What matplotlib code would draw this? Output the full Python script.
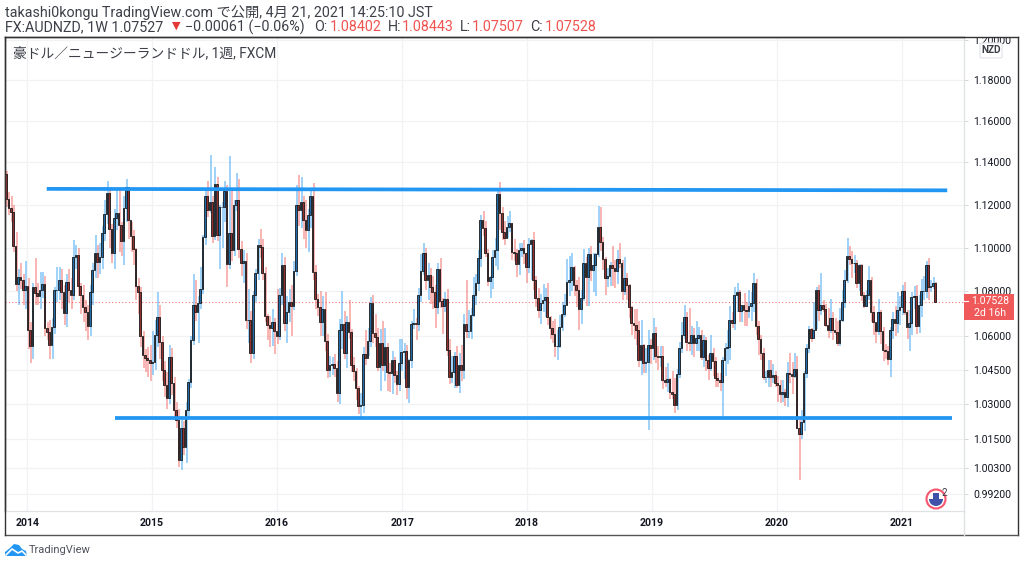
import numpy as np
import pandas as pd
import matplotlib
matplotlib.use("Agg")
import matplotlib.pyplot as plt
import matplotlib.dates as mdates
from matplotlib.collections import LineCollection
from matplotlib.lines import Line2D
from matplotlib.patches import Rectangle, Circle, Polygon, FancyBboxPatch, Wedge
from matplotlib.ticker import NullLocator
from matplotlib.transforms import Bbox, IdentityTransform

plt.rcParams['font.family'] = ['Roboto', 'Noto Sans CJK JP', 'DejaVu Sans']

first_open = 1.1345

# weekly closes, ten candles per row
closes = [
    1.1226, 1.1184, 1.1166, 1.1007, 1.0834, 1.0866, 1.0852, 1.0806, 1.0824, 1.0627,
    1.0556, 1.0820, 1.0793, 1.0779, 1.0806, 1.0834, 1.0636, 1.0618, 1.0560, 1.0640,
    1.0806, 1.0806, 1.0852, 1.0797, 1.0703, 1.0843, 1.0806, 1.0784, 1.0957, 1.0966,
    1.0824, 1.0784, 1.0730, 1.0707, 1.0645, 1.0797, 1.0897, 1.0975, 1.0934, 1.0957,
    1.1067, 1.1156, 1.1255, 1.1086, 1.0975, 1.1137, 1.1161, 1.1105, 1.1030, 1.1184,
    1.1283, 1.1128, 1.1053, 1.0994, 1.0824, 1.0797, 1.0600, 1.0516, 1.0503, 1.0494,
    1.0481, 1.0485, 1.0605, 1.0685, 1.0573, 1.0450, 1.0385, 1.0328, 1.0507, 1.0393,
    1.0276, 1.0233, 1.0063, 1.0199, 1.0118, 1.0276, 1.0397, 1.0582, 1.0739, 1.0707,
    1.0748, 1.0811, 1.1049, 1.1240, 1.1175, 1.1212, 1.1053, 1.1298, 1.1058, 1.1189,
    1.1189, 1.1264, 1.0925, 1.1067, 1.0989, 1.1198, 1.1221, 1.0994, 1.0929, 1.0938,
    1.0671, 1.0671, 1.0525, 1.0784, 1.0884, 1.1012, 1.1003, 1.0884, 1.0689, 1.0649,
    1.0636, 1.0662, 1.0622, 1.0600, 1.0784, 1.0920, 1.0658, 1.0707, 1.0752, 1.0734,
    1.0893, 1.1198, 1.1175, 1.1212, 1.1128, 1.1081, 1.1151, 1.1240, 1.0888, 1.0766,
    1.0730, 1.0662, 1.0721, 1.0578, 1.0450, 1.0472, 1.0476, 1.0459, 1.0350, 1.0627,
    1.0653, 1.0525, 1.0662, 1.0618, 1.0472, 1.0446, 1.0372, 1.0293, 1.0297, 1.0520,
    1.0503, 1.0578, 1.0748, 1.0614, 1.0596, 1.0463, 1.0569, 1.0472, 1.0551, 1.0441,
    1.0437, 1.0494, 1.0428, 1.0389, 1.0481, 1.0529, 1.0534, 1.0376, 1.0494, 1.0653,
    1.0658, 1.0653, 1.0784, 1.0893, 1.0975, 1.0852, 1.0875, 1.0820, 1.0797, 1.0730,
    1.0902, 1.0757, 1.0734, 1.0766, 1.0538, 1.0419, 1.0441, 1.0511, 1.0385, 1.0472,
    1.0450, 1.0653, 1.0622, 1.0622, 1.0693, 1.0784, 1.0838, 1.0952, 1.1128, 1.1090,
    1.0975, 1.0847, 1.0866, 1.0957, 1.0989, 1.1250, 1.1161, 1.1072, 1.1044, 1.1095,
    1.1114, 1.0980, 1.0975, 1.0925, 1.0989, 1.0998, 1.0975, 1.0911, 1.1016, 1.1035,
    1.0852, 1.0770, 1.0716, 1.0748, 1.0761, 1.0775, 1.0685, 1.0636, 1.0609, 1.0556,
    1.0556, 1.0640, 1.0698, 1.0739, 1.0843, 1.0852, 1.0911, 1.0829, 1.0806, 1.0721,
    1.0770, 1.0929, 1.0866, 1.0971, 1.0897, 1.0920, 1.0971, 1.1095, 1.1026, 1.0948,
    1.0861, 1.0870, 1.0920, 1.0906, 1.0893, 1.0948, 1.0929, 1.0802, 1.0861, 1.0829,
    1.0730, 1.0658, 1.0649, 1.0627, 1.0494, 1.0560, 1.0481, 1.0485, 1.0560, 1.0547,
    1.0614, 1.0511, 1.0507, 1.0511, 1.0406, 1.0397, 1.0410, 1.0354, 1.0345, 1.0297,
    1.0432, 1.0547, 1.0605, 1.0685, 1.0573, 1.0569, 1.0605, 1.0569, 1.0591, 1.0605,
    1.0507, 1.0582, 1.0494, 1.0459, 1.0525, 1.0490, 1.0415, 1.0406, 1.0397, 1.0494,
    1.0547, 1.0551, 1.0671, 1.0658, 1.0784, 1.0797, 1.0712, 1.0739, 1.0716, 1.0712,
    1.0734, 1.0748, 1.0838, 1.0645, 1.0587, 1.0525, 1.0419, 1.0419, 1.0450, 1.0419,
    1.0428, 1.0393, 1.0385, 1.0345, 1.0354, 1.0332, 1.0437, 1.0432, 1.0424, 1.0454,
    1.0199, 1.0173, 1.0224, 1.0437, 1.0547, 1.0631, 1.0591, 1.0627, 1.0806, 1.0716,
    1.0739, 1.0721, 1.0649, 1.0627, 1.0680, 1.0627, 1.0618, 1.0569, 1.0671, 1.0752,
    1.0852, 1.0961, 1.0948, 1.0929, 1.0929, 1.0838, 1.0920, 1.0784, 1.0734, 1.0784,
    1.0852, 1.0707, 1.0662, 1.0622, 1.0707, 1.0622, 1.0538, 1.0534, 1.0498, 1.0627,
    1.0676, 1.0658, 1.0716, 1.0730, 1.0802, 1.0707, 1.0640, 1.0658, 1.0775, 1.0779,
    1.0645, 1.0739, 1.0802, 1.0802, 1.0920, 1.0820, 1.0824, 1.0838, 1.07528,
]

highs = [
    1.136, 1.126, 1.124, 1.120, 1.107, 1.090, 1.093, 1.088, 1.094, 1.086,
    1.066, 1.084, 1.095, 1.084, 1.089, 1.089, 1.087, 1.066, 1.067, 1.068,
    1.082, 1.091, 1.091, 1.090, 1.083, 1.088, 1.090, 1.086, 1.1035, 1.101,
    1.100, 1.084, 1.083, 1.076, 1.074, 1.083, 1.093, 1.106, 1.101, 1.102,
    1.110, 1.122, 1.131, 1.127, 1.111, 1.118, 1.128, 1.128, 1.112, 1.124,
    1.132, 1.128, 1.112, 1.108, 1.100, 1.086, 1.082, 1.062, 1.054, 1.055,
    1.056, 1.062, 1.067, 1.0797, 1.074, 1.060, 1.049, 1.044, 1.056, 1.0546,
    1.042, 1.031, 1.028, 1.0235, 1.023, 1.031, 1.041, 1.060, 1.088, 1.085,
    1.078, 1.091, 1.106, 1.127, 1.131, 1.1435, 1.124, 1.138, 1.133, 1.120,
    1.121, 1.131, 1.129, 1.143, 1.127, 1.122, 1.135, 1.132, 1.103, 1.099,
    1.0975, 1.081, 1.071, 1.080, 1.090, 1.104, 1.1085, 1.104, 1.091, 1.070,
    1.069, 1.072, 1.068, 1.081, 1.0815, 1.0975, 1.0955, 1.078, 1.081, 1.083,
    1.094, 1.129, 1.134, 1.133, 1.124, 1.122, 1.118, 1.1275, 1.130, 1.092,
    1.079, 1.080, 1.078, 1.0795, 1.061, 1.051, 1.0505, 1.052, 1.049, 1.0675,
    1.080, 1.071, 1.069, 1.076, 1.063, 1.0505, 1.046, 1.038, 1.035, 1.055,
    1.0625, 1.0635, 1.0775, 1.0785, 1.070, 1.0635, 1.063, 1.0665, 1.0635, 1.057,
    1.048, 1.0535, 1.0505, 1.0445, 1.0585, 1.0585, 1.057, 1.056, 1.050, 1.0665,
    1.072, 1.068, 1.0815, 1.097, 1.102, 1.100, 1.093, 1.0905, 1.087, 1.083,
    1.093, 1.095, 1.077, 1.0795, 1.081, 1.0585, 1.051, 1.053, 1.0555, 1.0525,
    1.056, 1.070, 1.085, 1.0715, 1.0725, 1.0866, 1.088, 1.099, 1.115, 1.117,
    1.1125, 1.0995, 1.087, 1.099, 1.1045, 1.1265, 1.1305, 1.119, 1.1125, 1.1145,
    1.117, 1.1115, 1.104, 1.0995, 1.102, 1.102, 1.1035, 1.097, 1.1045, 1.104,
    1.107, 1.087, 1.0815, 1.079, 1.0835, 1.0815, 1.084, 1.069, 1.0665, 1.0675,
    1.0625, 1.0695, 1.075, 1.079, 1.0948, 1.096, 1.0975, 1.0915, 1.085, 1.0865,
    1.0805, 1.0994, 1.0955, 1.100, 1.1005, 1.0975, 1.0975, 1.1195, 1.119, 1.105,
    1.0955, 1.0905, 1.0935, 1.1005, 1.0945, 1.099, 1.102, 1.0945, 1.0955, 1.0885,
    1.0835, 1.0735, 1.072, 1.072, 1.0665, 1.067, 1.0565, 1.0545, 1.0625, 1.0585,
    1.068, 1.064, 1.0555, 1.0555, 1.0555, 1.0465, 1.048, 1.0415, 1.0445, 1.0415,
    1.0455, 1.0575, 1.066, 1.074, 1.0705, 1.0725, 1.0645, 1.0635, 1.0665, 1.064,
    1.0625, 1.0605, 1.0595, 1.0515, 1.0605, 1.0545, 1.0505, 1.0435, 1.0435, 1.0505,
    1.057, 1.0625, 1.0735, 1.0705, 1.082, 1.0838, 1.0806, 1.0735, 1.0793, 1.075,
    1.0805, 1.0795, 1.0885, 1.0855, 1.0665, 1.0605, 1.0545, 1.0445, 1.0495, 1.0495,
    1.0475, 1.0445, 1.0425, 1.0405, 1.0405, 1.0365, 1.0485, 1.0525, 1.0485, 1.0525,
    1.051, 1.0245, 1.0275, 1.0445, 1.0565, 1.0645, 1.0635, 1.075, 1.082, 1.083,
    1.0884, 1.076, 1.0745, 1.0725, 1.0765, 1.0705, 1.068, 1.0665, 1.0725, 1.0806,
    1.0895, 1.1045, 1.1007, 1.0985, 1.0965, 1.0945, 1.0925, 1.0925, 1.0795, 1.0805,
    1.0915, 1.0865, 1.0735, 1.065, 1.0765, 1.0715, 1.064, 1.0565, 1.0555, 1.064,
    1.0705, 1.0735, 1.0795, 1.078, 1.083, 1.0843, 1.0715, 1.0715, 1.0795, 1.0825,
    1.0829, 1.0785, 1.0855, 1.087, 1.0938, 1.0950, 1.085, 1.0865, 1.08443,
]

lows = [
    1.119, 1.115, 1.112, 1.098, 1.080, 1.074, 1.081, 1.074, 1.072, 1.054,
    1.048, 1.050, 1.074, 1.074, 1.072, 1.077, 1.060, 1.058, 1.050, 1.050,
    1.061, 1.075, 1.076, 1.072, 1.065, 1.064, 1.075, 1.072, 1.076, 1.090,
    1.078, 1.070, 1.066, 1.062, 1.058, 1.060, 1.074, 1.086, 1.086, 1.088,
    1.090, 1.103, 1.111, 1.100, 1.093, 1.090, 1.108, 1.098, 1.096, 1.092,
    1.112, 1.104, 1.098, 1.092, 1.076, 1.070, 1.055, 1.046, 1.044, 1.042,
    1.040, 1.043, 1.045, 1.055, 1.050, 1.040, 1.033, 1.028, 1.030, 1.034,
    1.024, 1.020, 1.0035, 1.002, 1.0085, 1.005, 1.024, 1.037, 1.056, 1.0665,
    1.057, 1.072, 1.079, 1.101, 1.114, 1.116, 1.102, 1.1035, 1.103, 1.090,
    1.100, 1.112, 1.082, 1.090, 1.094, 1.096, 1.117, 1.095, 1.087, 1.084,
    1.063, 1.057, 1.048, 1.050, 1.075, 1.085, 1.095, 1.085, 1.066, 1.058,
    1.055, 1.0555, 1.052, 1.0565, 1.058, 1.074, 1.062, 1.057, 1.066, 1.060,
    1.0715, 1.087, 1.110, 1.109, 1.104, 1.100, 1.098, 1.109, 1.085, 1.072,
    1.069, 1.060, 1.060, 1.0535, 1.0415, 1.042, 1.043, 1.042, 1.031, 1.030,
    1.054, 1.050, 1.046, 1.0585, 1.044, 1.040, 1.032, 1.026, 1.0241, 1.0265,
    1.047, 1.051, 1.055, 1.057, 1.055, 1.0445, 1.036, 1.0445, 1.040, 1.036,
    1.0355, 1.0345, 1.0395, 1.034, 1.036, 1.0445, 1.041, 1.0325, 1.0305, 1.046,
    1.063, 1.058, 1.062, 1.075, 1.0875, 1.0805, 1.076, 1.0745, 1.072, 1.0635,
    1.070, 1.0725, 1.061, 1.0705, 1.051, 1.039, 1.0395, 1.037, 1.037, 1.035,
    1.040, 1.041, 1.059, 1.059, 1.0585, 1.0685, 1.074, 1.080, 1.091, 1.1055,
    1.0955, 1.0825, 1.077, 1.081, 1.0915, 1.0895, 1.108, 1.1035, 1.101, 1.1045,
    1.107, 1.0945, 1.094, 1.0866, 1.0875, 1.0955, 1.0925, 1.084, 1.0885, 1.085,
    1.0805, 1.073, 1.068, 1.0655, 1.0705, 1.0685, 1.065, 1.0585, 1.057, 1.0505,
    1.0495, 1.0545, 1.062, 1.0685, 1.0745, 1.078, 1.080, 1.078, 1.073, 1.0625,
    1.0655, 1.0755, 1.0735, 1.0735, 1.0845, 1.0795, 1.078, 1.0955, 1.0985, 1.0895,
    1.0785, 1.082, 1.0825, 1.0825, 1.0815, 1.0835, 1.0905, 1.076, 1.0785, 1.076,
    1.068, 1.0605, 1.0585, 1.056, 1.0465, 1.043, 1.0435, 1.0435, 1.019, 1.0475,
    1.0495, 1.048, 1.045, 1.0465, 1.0365, 1.0375, 1.0355, 1.0325, 1.0325, 1.0265,
    1.0275, 1.0415, 1.0525, 1.0585, 1.0535, 1.0535, 1.0515, 1.0505, 1.0535, 1.0535,
    1.0495, 1.0465, 1.0445, 1.0405, 1.0445, 1.0425, 1.0375, 1.0375, 1.036, 1.0245,
    1.0425, 1.0475, 1.0495, 1.0635, 1.0625, 1.0705, 1.066, 1.066, 1.0645, 1.0645,
    1.068, 1.0665, 1.0705, 1.0605, 1.0515, 1.0495, 1.0405, 1.0395, 1.0375, 1.0375,
    1.0395, 1.0375, 1.031, 1.0305, 1.031, 1.0295, 1.029, 1.0395, 1.0345, 1.0415,
    1.0195, 0.998, 1.015, 1.0185, 1.0415, 1.0525, 1.0575, 1.0605, 1.063, 1.0665,
    1.0695, 1.0705, 1.064, 1.059, 1.0615, 1.058, 1.0605, 1.0555, 1.0555, 1.066,
    1.0725, 1.084, 1.092, 1.086, 1.0885, 1.0815, 1.080, 1.0755, 1.0725, 1.073,
    1.076, 1.066, 1.0605, 1.057, 1.0605, 1.0565, 1.049, 1.050, 1.0472, 1.042,
    1.0585, 1.060, 1.0615, 1.065, 1.0695, 1.0695, 1.0585, 1.0535, 1.0605, 1.072,
    1.061, 1.0615, 1.0685, 1.076, 1.077, 1.076, 1.0795, 1.081, 1.07507,
]

price_ticks = [1.2, 1.18, 1.16, 1.14, 1.12, 1.10, 1.08, 1.06, 1.045, 1.03, 1.015, 1.003, 0.992]
price_labels = ['1.20000', '1.18000', '1.16000', '1.14000', '1.12000', '1.10000', '1.08000',
                '1.06000', '1.04500', '1.03000', '1.01500', '1.00300', '0.99200']
years = [2014, 2015, 2016, 2017, 2018, 2019, 2020, 2021]

# drawn trend lines: candle index of the ends and their prices
top_line_idx = [17, 393]
top_line_price = [1.1274, 1.1267]
low_line_idx = [45.5, 395]
low_line_price = [1.0241, 1.0241]
last_price = 1.07528

W, H = 1024, 566
UP = '#2196f3'
DOWN = '#ef5350'


def fx(x):
    return x / W


def fy(y):
    return 1 - y / H


closes = np.array(closes)
opens = np.r_[first_open, closes[:-1]]
highs = np.array(highs)
lows = np.array(lows)

fig = plt.figure(figsize=(10.24, 5.66), dpi=100)
ax = fig.add_axes([fx(5), fy(511), fx(964 - 5), (511 - 37) / H])

dates = pd.date_range('2013-10-31', periods=len(closes), freq='7D')
xs = mdates.date2num(dates)
week = 7.0
up = closes >= opens
colors = np.where(up, UP, DOWN)
body_bottom = np.minimum(opens, closes)
body_height = np.abs(closes - opens)

# wicks sit a little to the right of the bodies in the reference
wick_shift = 3.0
segs = [[(x + wick_shift, lo), (x + wick_shift, hi)] for x, lo, hi in zip(xs, lows, highs)]
ax.add_collection(LineCollection(segs, colors=colors, linewidths=1.2, alpha=0.5, zorder=2))

# gray ghost on the right of each body
ax.bar(xs + 3.0, body_height, bottom=body_bottom, width=3.5, color='#777777', alpha=0.45, lw=0, zorder=2.5)
ax.bar(xs, body_height, bottom=body_bottom, width=4.8,
       color=np.where(up, '#1f6bab', '#93302f'), edgecolor='#1a1a1a', linewidth=0.6, zorder=3)

ax.plot(xs[0] + np.array(top_line_idx) * week, top_line_price, color='#2196f3', lw=2.7, zorder=4,
        solid_capstyle='butt')
ax.plot(xs[0] + np.array(low_line_idx) * week, low_line_price, color='#2196f3', lw=2.7, zorder=4,
        solid_capstyle='butt')

ax.axhline(last_price, color=DOWN, lw=0.8, ls=(0, (1, 2)), alpha=0.8, zorder=1)

ax.set_yscale('log')
ax.set_ylim(0.985, 1.2015)
ax.set_xlim(xs[0] - 0.42 * week, xs[0] + 400 * week)
ax.yaxis.set_minor_locator(NullLocator())
ax.xaxis.set_minor_locator(NullLocator())
ax.set_yticks(price_ticks)
ax.set_yticklabels(price_labels, fontsize=7.6, color='#131722')
ax.yaxis.tick_right()
ax.tick_params(axis='y', length=3, width=0.7, color='#d6d6d6', pad=3.5)
year_x = mdates.date2num([pd.Timestamp(year=y, month=1, day=1) for y in years])
ax.set_xticks(year_x)
ax.set_xticklabels(years, fontsize=7.6, fontweight='bold', color='#131722')
ax.tick_params(axis='x', length=0, pad=5)
ax.grid(True, color='#f1f2f4', lw=0.9)
ax.set_axisbelow(True)
for side in ['left', 'top']:
    ax.spines[side].set_color('#333333')
    ax.spines[side].set_linewidth(1.0)
for side in ['right', 'bottom']:
    ax.spines[side].set_color('#dfe1e5')
    ax.spines[side].set_linewidth(0.9)

# 1.20000 is cut by the top frame
clip = Bbox.from_extents(960, H - 535, 1018, H - 37)
for lab in ax.get_yticklabels():
    lab.set_clip_box(clip)
    lab.set_clip_on(True)

# outer frame around the price and time scales
for xa, ya, xb, yb, c in [(5, 37, 1018, 37, '#333333'), (1018, 37, 1018, 535, '#333333'),
                          (5, 535, 1018, 535, '#555555'), (5, 37, 5, 535, '#333333'),
                          (964, 511, 964, 535, '#dfe1e5')]:
    fig.add_artist(Line2D([fx(xa), fx(xb)], [fy(ya), fy(yb)], color=c, lw=1.0))

# header
hdr = 10.3
fig.text(fx(5), fy(13), 'takashi0kongu TradingView.com で公開, 4月 21, 2021 14:25:10 JST',
         fontsize=hdr, color='#3c3f48', va='center')
header_parts = [
    (5, 'FX:AUDNZD, 1W 1.07527', '#3c3f48'),
    (185, '−0.00061 (−0.06%)', '#3c3f48'),
    (314, 'O:', '#3c3f48'), (330, '1.08402', DOWN),
    (388, 'H:', '#3c3f48'), (402, '1.08443', DOWN),
    (460, 'L:', '#3c3f48'), (472, '1.07507', DOWN),
    (530, 'C:', '#3c3f48'), (545, '1.07528', DOWN),
]
for x, s, c in header_parts:
    fig.text(fx(x), fy(27), s, fontsize=hdr, color=c, va='center')
fig.text(fx(172), fy(25.5), '▼', fontsize=8, color='#e53935', va='center',
         family=['DejaVu Sans'])

fig.text(fx(13), fy(53), '豪ドル／ニュージーランドドル, 1週, FXCM', fontsize=9.9, color='#3c3f48',
         va='center')

# last price tag
fig.add_artist(Rectangle((fx(964), fy(320)), fx(50), (320 - 294) / H, color='#f0595a', lw=0))
fig.add_artist(Line2D([fx(964), fx(968)], [fy(301), fy(301)], color='white', lw=0.8))
fig.text(fx(990), fy(301), '1.07528', fontsize=7.6, color='white', ha='center', va='center')
fig.text(fx(990), fy(313), '2d 16h', fontsize=7.6, color='white', ha='center', va='center')

# currency button
fig.add_artist(FancyBboxPatch((fx(980), fy(58)), fx(22), 15 / H, boxstyle='round,pad=0,rounding_size=0.002',
                              fc='white', ec='#e0e3eb', lw=0.8))
fig.text(fx(991), fy(50), 'NZD', fontsize=7.2, fontweight='bold', color='#3c3f48', ha='center', va='center')

# small event icon near the bottom right
tr = IdentityTransform()
fig.add_artist(Circle((936, H - 499), 9.5, fill=False, ec='#f7566f', lw=1.5, transform=tr))
fig.add_artist(Wedge((936, H - 499), 7, 180, 360, fc='#3f51a8', ec='none', transform=tr))
fig.add_artist(Rectangle((933, H - 499), 6, 6, fc='#3f51a8', ec='none', transform=tr))
fig.text(fx(942), fy(493), '2', fontsize=7, color='#3c3f48', va='center')

# logo
fig.add_artist(Polygon([(5, H - 556), (5, H - 552), (10, H - 548), (14, H - 544), (19, H - 545), (22, H - 549),
                        (26, H - 551), (27, H - 556)], fc='#2196f3', ec='none', transform=tr))
fig.add_artist(Line2D([6, 12, 18, 22, 26], [H - 555, H - 549, H - 553, H - 551, H - 555], color='white', lw=1.2,
                      transform=tr))
fig.text(fx(29), fy(550), 'TradingView', fontsize=8.0, color='#50535e', va='center')

fig.savefig('out.png', dpi=100)
